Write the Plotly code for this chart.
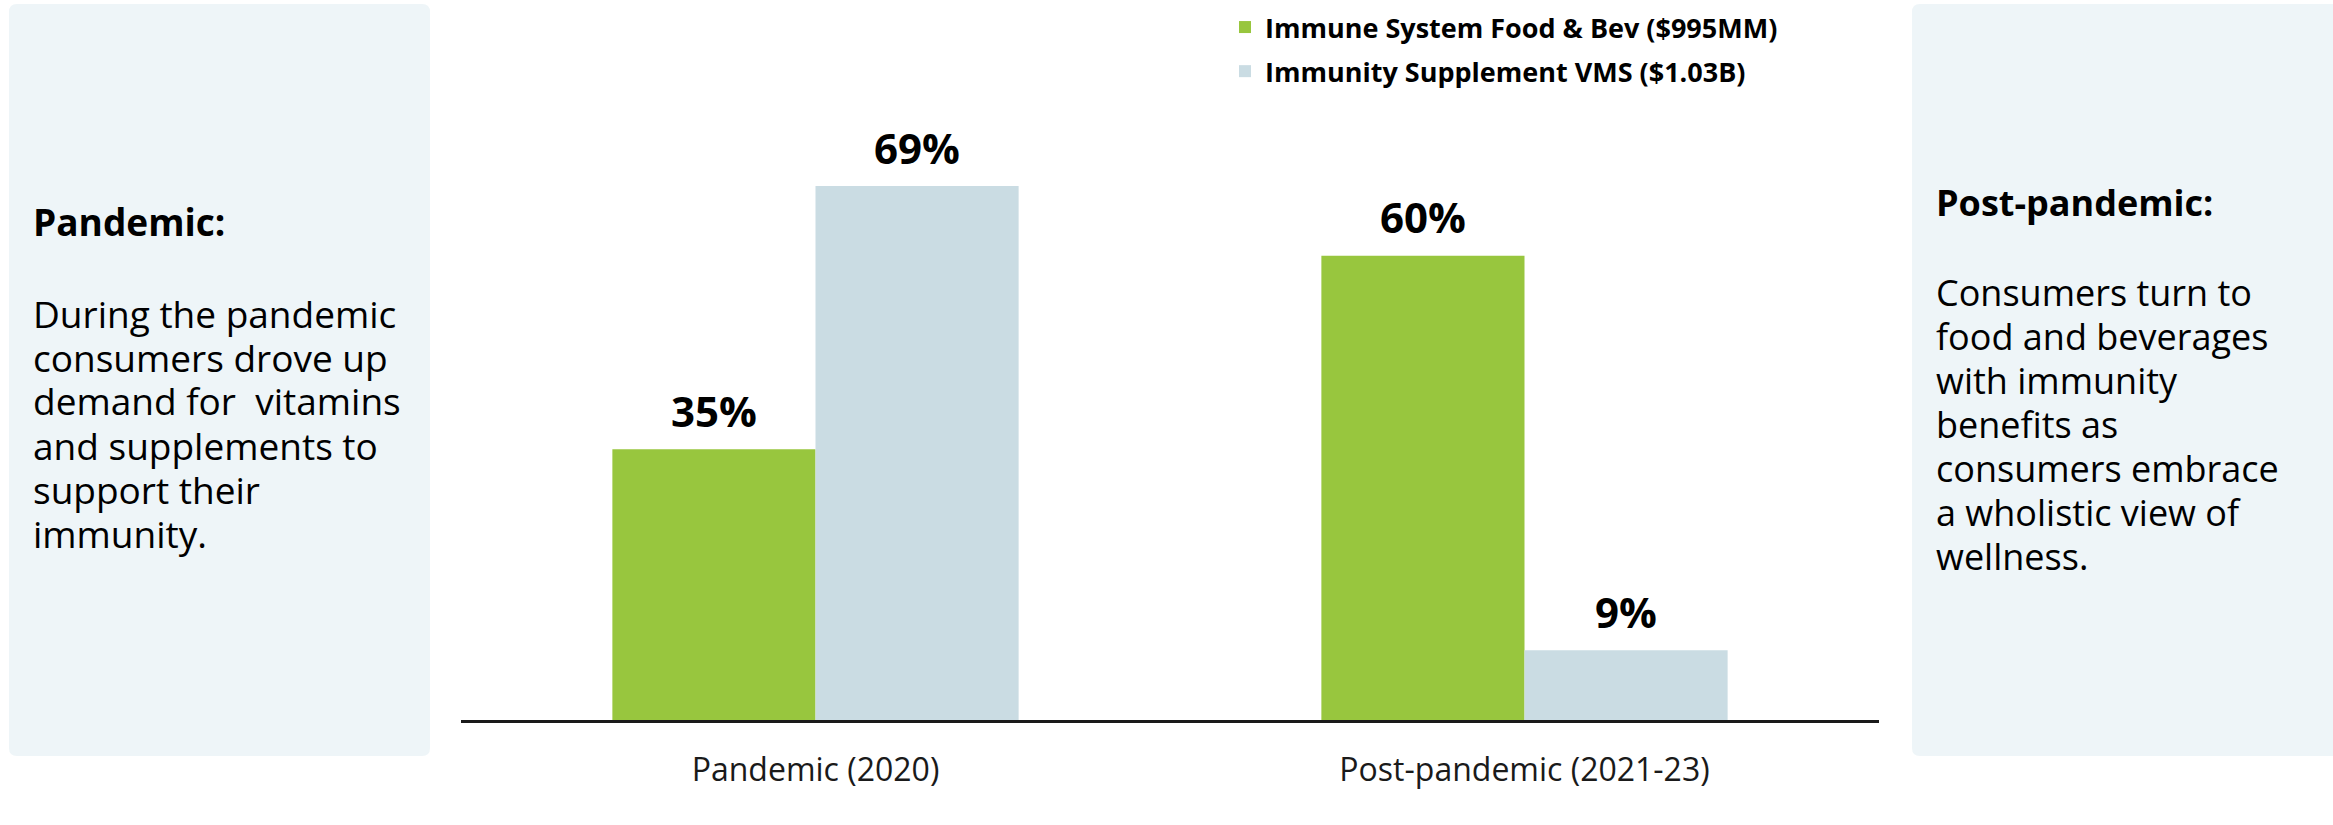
import plotly.graph_objects as go

# ---- data ----
categories = ["Pandemic (2020)", "Post-pandemic (2021-23)"]
food_bev = [35, 60]          # Immune System Food & Bev share (%)
supplements = [69, 9]        # Immunity Supplement VMS share (%)
series_names = ["Immune System Food & Bev ($995MM)", "Immunity Supplement VMS ($1.03B)"]

left_title = "Pandemic:"
left_lines = ["During the pandemic", "consumers drove up", "demand for  vitamins",
              "and supplements to", "support their", "immunity."]
right_title = "Post-pandemic:"
right_lines = ["Consumers turn to", "food and beverages", "with immunity", "benefits as",
               "consumers embrace", "a wholistic view of", "wellness."]

# ---- styling ----
GREEN = "#98C63E"
BLUE = "#CADCE3"
PANEL = "#EEF5F8"
FONT = "Open Sans"

W, H = 2333, 825
ML, MR, MT, MB = 461, 454, 101, 105
BARGAP = 0.427
Y_MAX = 80


def px_x(px):
    return (px - ML) / (W - ML - MR)


def px_y(py):
    return (H - MB - py) / (H - MT - MB)


fig = go.Figure()
fig.add_trace(go.Bar(name=series_names[0], x=categories, y=food_bev,
                     marker=dict(color=GREEN, line=dict(width=0)), legendgroup="a"))
fig.add_trace(go.Bar(name=series_names[1], x=categories, y=supplements,
                     marker=dict(color=BLUE, line=dict(width=0)), legendgroup="b"))

# value labels above each bar
half = (1 - BARGAP) / 4
annotations = []
for i, cat in enumerate(categories):
    for val, off in ((food_bev[i], -half), (supplements[i], half)):
        annotations.append(dict(x=i + off, y=val, xref="x", yref="y", text=f"<b>{val}%</b>",
                                showarrow=False, yanchor="middle", yshift=39,
                                font=dict(family=FONT, size=42, color="#000")))


def rounded_rect(x0, y0, x1, y1, r=8):
    X = lambda v: px_x(v)
    Y = lambda v: px_y(v)
    return (f"M {X(x0 + r)} {Y(y0)} L {X(x1 - r)} {Y(y0)} Q {X(x1)} {Y(y0)} {X(x1)} {Y(y0 + r)} "
            f"L {X(x1)} {Y(y1 - r)} Q {X(x1)} {Y(y1)} {X(x1 - r)} {Y(y1)} "
            f"L {X(x0 + r)} {Y(y1)} Q {X(x0)} {Y(y1)} {X(x0)} {Y(y1 - r)} "
            f"L {X(x0)} {Y(y0 + r)} Q {X(x0)} {Y(y0)} {X(x0 + r)} {Y(y0)} Z")


shapes = [
    dict(type="path", xref="paper", yref="paper", path=rounded_rect(9, 4, 430, 756),
         fillcolor=PANEL, line=dict(width=0), layer="below"),
    dict(type="path", xref="paper", yref="paper", path=rounded_rect(1912, 4, 2345, 756),
         fillcolor=PANEL, line=dict(width=0), layer="below"),
]


def panel_text(x, title, title_y, lines, first_y, step, size):
    out = [dict(x=px_x(x), y=px_y(title_y), xref="paper", yref="paper", text=f"<b>{title}</b>",
                showarrow=False, xanchor="left", yanchor="middle",
                font=dict(family=FONT, size=size, color="#000"))]
    for k, line in enumerate(lines):
        out.append(dict(x=px_x(x), y=px_y(first_y + k * step), xref="paper", yref="paper",
                        text=line, showarrow=False, xanchor="left", yanchor="middle",
                        font=dict(family=FONT, size=size, color="#000")))
    return out


annotations += panel_text(31, left_title, 222, left_lines, 313, 44, 37)
annotations += panel_text(1934, right_title, 202, right_lines, 292, 44.1, 36)

fig.update_layout(
    width=W, height=H,
    margin=dict(l=ML, r=MR, t=MT, b=MB, pad=0, autoexpand=False),
    paper_bgcolor="white", plot_bgcolor="white",
    barmode="group", bargap=BARGAP, bargroupgap=0,
    font=dict(family=FONT, color="#000"),
    showlegend=True,
    legend=dict(x=px_x(1225), y=px_y(3), xanchor="left", yanchor="top",
                font=dict(family=FONT, size=27, color="#000"),
                tracegroupgap=6, bgcolor="rgba(0,0,0,0)", traceorder="grouped"),
    xaxis=dict(showline=True, linecolor="#1a1a1a", linewidth=3, ticks="",
               tickfont=dict(family=FONT, size=32, color="#1a1a1a"),
               ticklabelstandoff=20, showgrid=False, zeroline=False),
    yaxis=dict(range=[0, Y_MAX], visible=False, showgrid=False, zeroline=False),
    shapes=shapes, annotations=annotations,
)

# bold legend labels
for tr in fig.data:
    tr.name = f"<b>{tr.name}</b>"

fig.write_html("out.html")
